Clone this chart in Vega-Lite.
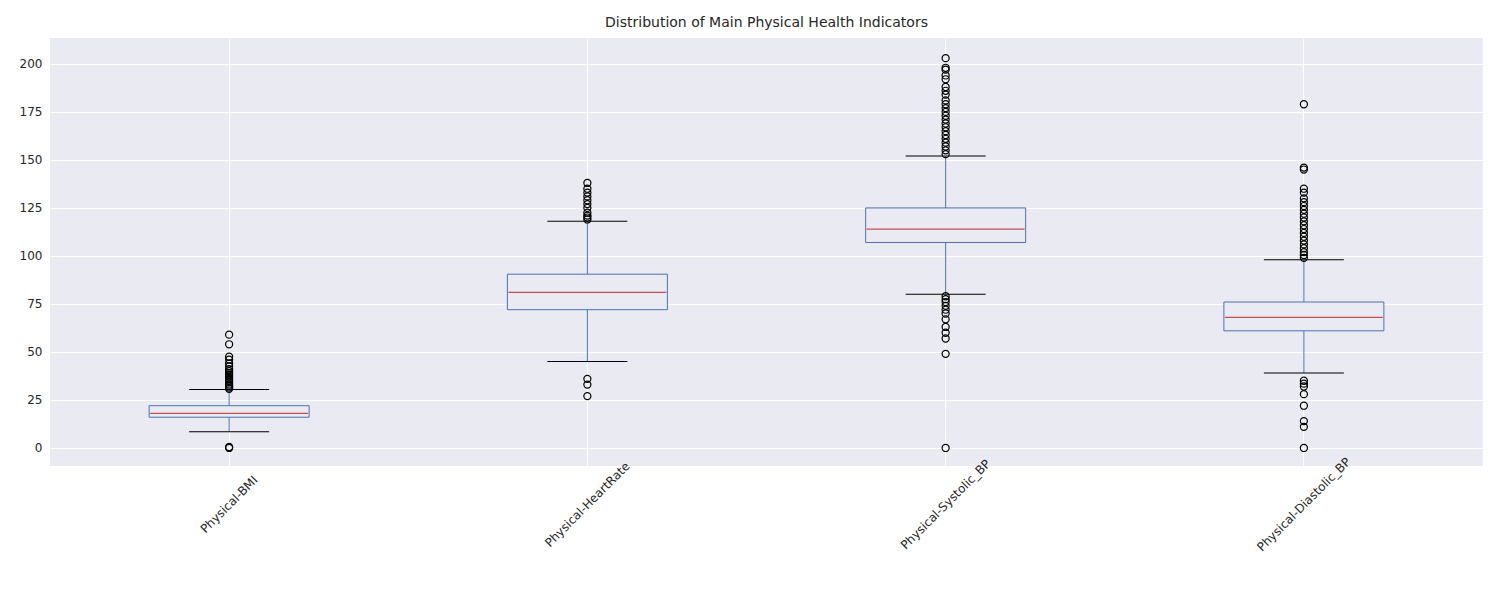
{
  "$schema": "https://vega.github.io/schema/vega-lite/v6.json",
  "title": {"text": "Distribution of Main Physical Health Indicators", "font": "DejaVu Sans", "fontSize": 14, "fontWeight": "normal", "color": "#262626", "offset": 8},
  "autosize": {"type": "none"},
  "padding": {"left": 50, "top": 38, "right": 17, "bottom": 134},
  "width": 1433,
  "height": 428,
  "config": {
    "view": {"fill": "#EAEAF2", "stroke": null},
    "axis": {"labelFont": "DejaVu Sans", "labelFontSize": 12, "labelColor": "#262626", "domain": false, "ticks": false, "gridColor": "#ffffff", "gridWidth": 1, "gridOpacity": 1, "title": null}
  },
  "datasets": {
    "boxes": [
      {"var": "Physical-BMI", "lo": 8.5, "q1": 16, "med": 18, "q3": 22, "hi": 30.5},
      {"var": "Physical-HeartRate", "lo": 45, "q1": 72, "med": 81, "q3": 90.5, "hi": 118},
      {"var": "Physical-Systolic_BP", "lo": 80, "q1": 107, "med": 114, "q3": 125, "hi": 152},
      {"var": "Physical-Diastolic_BP", "lo": 39, "q1": 61, "med": 68, "q3": 76, "hi": 98}
    ],
    "outliers": [
      {"var": "Physical-BMI", "v": 0}, {"var": "Physical-BMI", "v": 0.5},
      {"var": "Physical-BMI", "v": 30.8}, {"var": "Physical-BMI", "v": 31.5}, {"var": "Physical-BMI", "v": 32.3}, {"var": "Physical-BMI", "v": 33}, {"var": "Physical-BMI", "v": 34}, {"var": "Physical-BMI", "v": 35}, {"var": "Physical-BMI", "v": 36}, {"var": "Physical-BMI", "v": 37}, {"var": "Physical-BMI", "v": 38}, {"var": "Physical-BMI", "v": 39}, {"var": "Physical-BMI", "v": 40}, {"var": "Physical-BMI", "v": 41}, {"var": "Physical-BMI", "v": 42.5}, {"var": "Physical-BMI", "v": 44}, {"var": "Physical-BMI", "v": 46}, {"var": "Physical-BMI", "v": 47.5}, {"var": "Physical-BMI", "v": 54}, {"var": "Physical-BMI", "v": 59},
      {"var": "Physical-HeartRate", "v": 27}, {"var": "Physical-HeartRate", "v": 33}, {"var": "Physical-HeartRate", "v": 36},
      {"var": "Physical-HeartRate", "v": 119}, {"var": "Physical-HeartRate", "v": 120}, {"var": "Physical-HeartRate", "v": 121}, {"var": "Physical-HeartRate", "v": 122.5}, {"var": "Physical-HeartRate", "v": 125}, {"var": "Physical-HeartRate", "v": 127}, {"var": "Physical-HeartRate", "v": 129}, {"var": "Physical-HeartRate", "v": 131}, {"var": "Physical-HeartRate", "v": 133}, {"var": "Physical-HeartRate", "v": 135}, {"var": "Physical-HeartRate", "v": 138},
      {"var": "Physical-Systolic_BP", "v": 0}, {"var": "Physical-Systolic_BP", "v": 49}, {"var": "Physical-Systolic_BP", "v": 57}, {"var": "Physical-Systolic_BP", "v": 60}, {"var": "Physical-Systolic_BP", "v": 63}, {"var": "Physical-Systolic_BP", "v": 67}, {"var": "Physical-Systolic_BP", "v": 70}, {"var": "Physical-Systolic_BP", "v": 72}, {"var": "Physical-Systolic_BP", "v": 74}, {"var": "Physical-Systolic_BP", "v": 76}, {"var": "Physical-Systolic_BP", "v": 77.5}, {"var": "Physical-Systolic_BP", "v": 79},
      {"var": "Physical-Systolic_BP", "v": 153}, {"var": "Physical-Systolic_BP", "v": 155}, {"var": "Physical-Systolic_BP", "v": 157}, {"var": "Physical-Systolic_BP", "v": 159}, {"var": "Physical-Systolic_BP", "v": 161}, {"var": "Physical-Systolic_BP", "v": 163}, {"var": "Physical-Systolic_BP", "v": 165}, {"var": "Physical-Systolic_BP", "v": 167}, {"var": "Physical-Systolic_BP", "v": 169}, {"var": "Physical-Systolic_BP", "v": 171}, {"var": "Physical-Systolic_BP", "v": 173}, {"var": "Physical-Systolic_BP", "v": 175}, {"var": "Physical-Systolic_BP", "v": 177}, {"var": "Physical-Systolic_BP", "v": 179}, {"var": "Physical-Systolic_BP", "v": 181}, {"var": "Physical-Systolic_BP", "v": 184}, {"var": "Physical-Systolic_BP", "v": 186}, {"var": "Physical-Systolic_BP", "v": 188}, {"var": "Physical-Systolic_BP", "v": 192}, {"var": "Physical-Systolic_BP", "v": 194}, {"var": "Physical-Systolic_BP", "v": 197}, {"var": "Physical-Systolic_BP", "v": 198}, {"var": "Physical-Systolic_BP", "v": 203},
      {"var": "Physical-Diastolic_BP", "v": 0}, {"var": "Physical-Diastolic_BP", "v": 11}, {"var": "Physical-Diastolic_BP", "v": 14}, {"var": "Physical-Diastolic_BP", "v": 22}, {"var": "Physical-Diastolic_BP", "v": 28}, {"var": "Physical-Diastolic_BP", "v": 32}, {"var": "Physical-Diastolic_BP", "v": 33.5}, {"var": "Physical-Diastolic_BP", "v": 35},
      {"var": "Physical-Diastolic_BP", "v": 99}, {"var": "Physical-Diastolic_BP", "v": 100.5}, {"var": "Physical-Diastolic_BP", "v": 102}, {"var": "Physical-Diastolic_BP", "v": 104}, {"var": "Physical-Diastolic_BP", "v": 106}, {"var": "Physical-Diastolic_BP", "v": 108}, {"var": "Physical-Diastolic_BP", "v": 110}, {"var": "Physical-Diastolic_BP", "v": 112}, {"var": "Physical-Diastolic_BP", "v": 114}, {"var": "Physical-Diastolic_BP", "v": 116}, {"var": "Physical-Diastolic_BP", "v": 118}, {"var": "Physical-Diastolic_BP", "v": 120}, {"var": "Physical-Diastolic_BP", "v": 122}, {"var": "Physical-Diastolic_BP", "v": 124}, {"var": "Physical-Diastolic_BP", "v": 126}, {"var": "Physical-Diastolic_BP", "v": 128}, {"var": "Physical-Diastolic_BP", "v": 130}, {"var": "Physical-Diastolic_BP", "v": 133}, {"var": "Physical-Diastolic_BP", "v": 135}, {"var": "Physical-Diastolic_BP", "v": 145}, {"var": "Physical-Diastolic_BP", "v": 146}, {"var": "Physical-Diastolic_BP", "v": 179}
    ]
  },
  "encoding": {
    "x": {"field": "var", "type": "nominal", "sort": null,
      "scale": {"domain": ["Physical-BMI", "Physical-HeartRate", "Physical-Systolic_BP", "Physical-Diastolic_BP"], "paddingInner": 0, "paddingOuter": 0},
      "axis": {"labelAngle": -45, "labelAlign": "center", "labelBaseline": "middle", "labelPadding": 38, "grid": true, "bandPosition": 0.5}}
  },
  "layer": [
    {
      "data": {"name": "boxes"},
      "mark": {"type": "rule", "color": "#4C72B0", "strokeWidth": 1},
      "encoding": {
        "y": {"field": "lo", "type": "quantitative", "scale": {"domain": [-9.4, 213.5], "nice": false, "zero": false},
          "axis": {"values": [0, 25, 50, 75, 100, 125, 150, 175, 200], "labelPadding": 8}},
        "y2": {"field": "hi"}
      }
    },
    {
      "data": {"name": "boxes"},
      "mark": {"type": "bar", "size": 160, "fill": "#EAEAF2", "stroke": "#4C72B0", "strokeWidth": 1},
      "encoding": {"y": {"field": "q1", "type": "quantitative"}, "y2": {"field": "q3"}}
    },
    {
      "data": {"name": "boxes"},
      "mark": {"type": "tick", "size": 158, "thickness": 1.2, "color": "#C44E52", "opacity": 1},
      "encoding": {"y": {"field": "med", "type": "quantitative"}}
    },
    {
      "data": {"name": "boxes"},
      "mark": {"type": "tick", "size": 80, "thickness": 1, "color": "#000000", "opacity": 1},
      "encoding": {"y": {"field": "lo", "type": "quantitative"}}
    },
    {
      "data": {"name": "boxes"},
      "mark": {"type": "tick", "size": 80, "thickness": 1, "color": "#000000", "opacity": 1},
      "encoding": {"y": {"field": "hi", "type": "quantitative"}}
    },
    {
      "data": {"name": "outliers"},
      "mark": {"type": "point", "shape": "circle", "size": 50, "filled": false, "stroke": "#000000", "strokeWidth": 1.2, "opacity": 1},
      "encoding": {"y": {"field": "v", "type": "quantitative"}}
    }
  ]
}
